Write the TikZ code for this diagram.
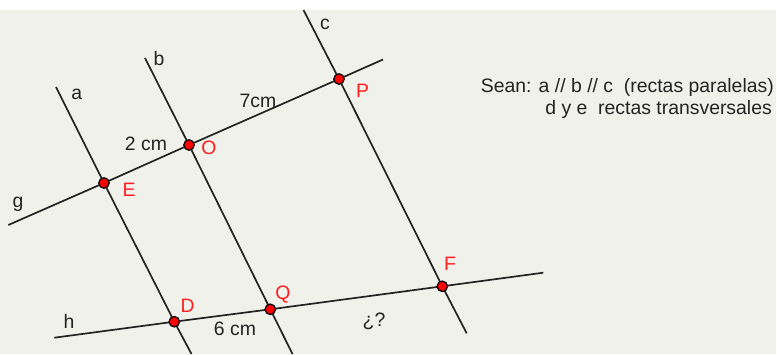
\documentclass[tikz,border=0pt]{standalone}
\usepackage{fontspec}
\setmainfont{Liberation Sans}
\definecolor{bg}{RGB}{241,241,235}
\definecolor{ln}{RGB}{35,35,35}
\definecolor{ptred}{RGB}{255,0,0}
\definecolor{lblred}{RGB}{255,30,30}
\begin{document}
\begin{tikzpicture}[x=1pt,y=-1pt,
  lineseg/.style={draw=ln,line width=1.7pt},
  ptdot/.style={circle,fill=ptred,draw=black,line width=1.2pt,inner sep=0pt,minimum size=10.5pt},
  lbl/.style={font=\fontsize{19.4}{23}\selectfont,text=ln,inner sep=0pt,anchor=base},
  rlbl/.style={font=\fontsize{19.4}{23}\selectfont,text=lblred,inner sep=0pt,anchor=base}]
\useasboundingbox (0,0) rectangle (777,354);
\fill[white] (0,0) rectangle (777,354);
\fill[bg] (0,10) rectangle (776,354);
% line end points
\coordinate (atop) at (56,87);
\coordinate (abot) at (191.5,354);
\coordinate (btop) at (145,58);
\coordinate (bbot) at (292.5,354);
\coordinate (ctop) at (303.5,10);
\coordinate (cbot) at (466.7,333.3);
\coordinate (gl) at (8.3,225);
\coordinate (gr) at (383,59.5);
\coordinate (hl) at (54.3,337.7);
\coordinate (hr) at (543.3,272.7);
% intersection point positions
\coordinate (E) at (104,183);
\coordinate (O) at (189,145);
\coordinate (P) at (339,79);
\coordinate (D) at (174.3,321.7);
\coordinate (Q) at (270.3,309.3);
\coordinate (F) at (442.3,286.3);
% lines
\draw[lineseg] (atop) -- (E) -- (D) -- (abot);
\draw[lineseg] (btop) -- (O) -- (Q) -- (bbot);
\draw[lineseg] (ctop) -- (P) -- (F) -- (cbot);
\draw[lineseg] (gl) -- (E) -- (O) -- (P) -- (gr);
\draw[lineseg] (hl) -- (D) -- (Q) -- (F) -- (hr);
% points
\node[ptdot] (dE) at (E) {};
\node[ptdot] (dO) at (O) {};
\node[ptdot] (dP) at (P) {};
\node[ptdot] (dD) at (D) {};
\node[ptdot] (dQ) at (Q) {};
\node[ptdot] (dF) at (F) {};
% line labels
\node[lbl] (la) at (76.7,99.5) {a};
\node[lbl] (lb) at (159,65) {b};
\node[lbl] (lc) at (325,29) {c};
\node[lbl] (lg) at (18,207.5) {g};
\node[lbl] (lh) at (69,328) {h};
% point labels
\node[rlbl] (lE) at (129,196) {E};
\node[rlbl] (lO) at (209,154.5) {O};
\node[rlbl] (lP) at (362.7,97.5) {P};
\node[rlbl] (lD) at (187.7,312) {D};
\node[rlbl] (lQ) at (283,299) {Q};
\node[rlbl] (lF) at (450,270) {F};
% measures
\node[lbl] (m2) at (146,150) {2 cm};
\node[lbl] (m7) at (258,107) {7cm};
\node[lbl] (m6) at (235,335) {6 cm};
\node[lbl] (mq) at (374,326) {¿?};
% statement
\node[lbl,anchor=base east] (t1) at (774,92) {Sean: a // b // c\ \ (rectas paralelas)};
\node[lbl,anchor=base east] (t2) at (772,114) {d y e\ \ rectas transversales};
\end{tikzpicture}
\end{document}
